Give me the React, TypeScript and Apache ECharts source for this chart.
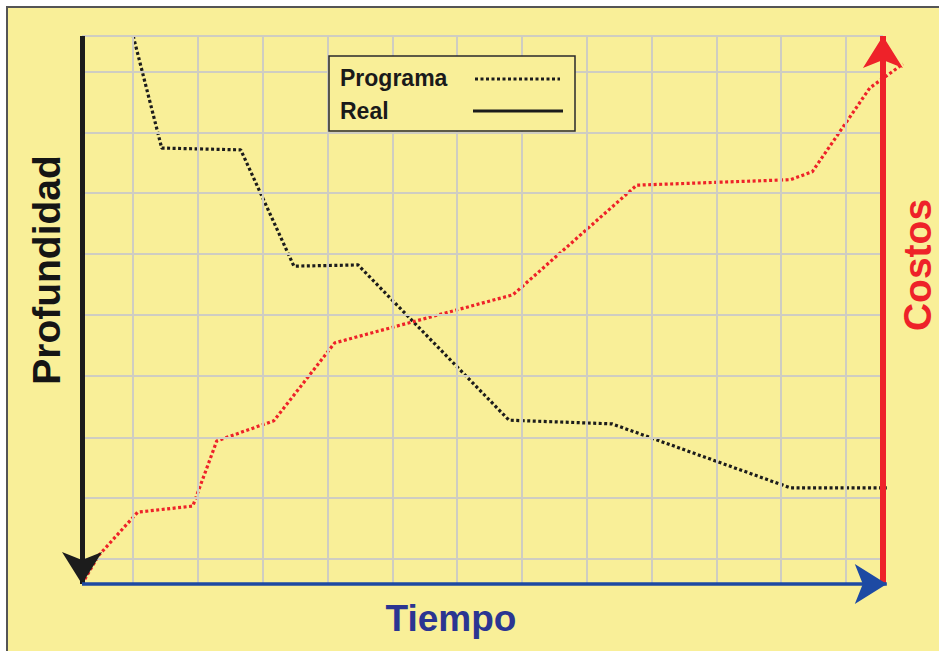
import React, { useEffect, useRef } from "react";
import * as echarts from "echarts";

// Time axis (arbitrary units, origin at 0)
const TIME_MAX = 12.67;
const TIME_ARROW_END = 12.42;
const COST_AXIS_T = 12.36;
const colLines = [0.79, 1.79, 2.79, 3.79, 4.79, 5.79, 6.79, 7.79, 8.79, 9.79, 10.79, 11.79];
// Depth axis (top = 0, increasing downward)
const DEPTH_MAX = 9;
const rowLines = [0, 0.59, 1.59, 2.58, 3.58, 4.58, 5.58, 6.59, 7.59, 8.59];

// Programa – profundidad (time, depth)
const depthTime = [0.79, 1.23, 2.45, 3.27, 4.26, 6.59, 8.18, 10.93, 12.42];
const depthValue = [0, 1.84, 1.87, 3.78, 3.76, 6.31, 6.37, 7.42, 7.42];

// Programa – costos (time, cost)
const costTime = [0, 0.25, 0.86, 1.71, 2.08, 2.96, 3.9, 6.65, 8.56, 10.93, 11.27, 12.16, 12.67];
const costValue = [0, 0.46, 1.18, 1.28, 2.35, 2.68, 3.96, 4.75, 6.55, 6.64, 6.77, 8.15, 8.54];

const legendItems = ["Programa", "Real"];
const axisTitles = { depth: "Profundidad", cost: "Costos", time: "Tiempo" };

const BG = "#F9EF98";
const GRID = "#CFCDC2";
const RED = "#EE2229";
const BLUE = "#1D4AA3";
const BLACK = "#1C1C1C";

export default function App() {
  const ref = useRef<HTMLDivElement>(null);
  useEffect(() => {
    if (!ref.current) return;
    const chart = echarts.init(ref.current, undefined, { renderer: "svg" });
    const gridMarks: any[] = [];
    colLines.forEach((t) => gridMarks.push([{ coord: [t, 0] }, { coord: [t, DEPTH_MAX] }]));
    rowLines.forEach((d) => gridMarks.push([{ coord: [0, d] }, { coord: [COST_AXIS_T, d] }]));

    const arrow = (from: number[], to: number[], color: string, width: number) => ({
      type: "line",
      data: [],
      yAxisIndex: 0,
      z: 5,
      silent: true,
      markLine: {
        silent: true,
        label: { show: false },
        symbol: ["none", "arrow"],
        symbolSize: [30, 32],
        lineStyle: { color, width, type: "solid" },
        data: [[{ coord: from }, { coord: to }]],
      },
    });

    chart.setOption({
      animation: false,
      backgroundColor: "transparent",
      grid: { left: 82, top: 36, width: 821, height: 548 },
      xAxis: { type: "value", min: 0, max: TIME_MAX, show: false },
      yAxis: [
        { type: "value", min: 0, max: DEPTH_MAX, inverse: true, show: false },
        { type: "value", min: 0, max: 9, show: false },
      ],
      series: [
        {
          type: "line",
          name: "grid",
          data: [],
          z: 1,
          silent: true,
          markLine: {
            silent: true,
            symbol: ["none", "none"],
            label: { show: false },
            lineStyle: { color: GRID, width: 2, type: "solid" },
            data: gridMarks,
          },
        },
        {
          type: "line",
          name: "Programa profundidad",
          yAxisIndex: 0,
          z: 3,
          clip: false,
          showSymbol: false,
          data: depthTime.map((t, i) => [t, depthValue[i]]),
          lineStyle: { color: BLACK, width: 3.2, type: [3, 2.5] },
        },
        {
          type: "line",
          name: "Programa costos",
          yAxisIndex: 1,
          z: 3,
          clip: false,
          showSymbol: false,
          data: costTime.map((t, i) => [t, costValue[i]]),
          lineStyle: { color: RED, width: 3.2, type: [3, 2.5] },
        },
        arrow([0, 0], [0, DEPTH_MAX], BLACK, 5),
        arrow([COST_AXIS_T, DEPTH_MAX], [COST_AXIS_T, 0], RED, 6),
        arrow([0, DEPTH_MAX], [TIME_ARROW_END, DEPTH_MAX], BLUE, 3.5),
      ],
      graphic: [
        {
          type: "rect",
          z: 10,
          shape: { x: 329, y: 56, width: 246, height: 75 },
          style: { fill: BG, stroke: "#2a2a2a", lineWidth: 1.5 },
        },
        {
          type: "text",
          z: 11,
          x: 340,
          y: 78,
          style: { text: legendItems[0], font: "bold 23px 'Liberation Sans', Arial, sans-serif", fill: "#1a1a1a", verticalAlign: "middle" },
        },
        {
          type: "text",
          z: 11,
          x: 340,
          y: 111,
          style: { text: legendItems[1], font: "bold 23px 'Liberation Sans', Arial, sans-serif", fill: "#1a1a1a", verticalAlign: "middle" },
        },
        {
          type: "line",
          z: 11,
          shape: { x1: 475, y1: 79, x2: 560, y2: 79 },
          style: { stroke: BLACK, lineWidth: 3, lineDash: [3, 2.5] },
        },
        {
          type: "line",
          z: 11,
          shape: { x1: 473, y1: 111, x2: 563, y2: 111 },
          style: { stroke: BLACK, lineWidth: 3 },
        },
        {
          type: "text",
          z: 11,
          x: 46,
          y: 270,
          rotation: Math.PI / 2,
          style: { text: axisTitles.depth, font: "bold 39px 'Liberation Sans', Arial, sans-serif", fill: "#151515", align: "center", verticalAlign: "middle" },
        },
        {
          type: "text",
          z: 11,
          x: 917,
          y: 265,
          rotation: Math.PI / 2,
          style: { text: axisTitles.cost, font: "bold 39px 'Liberation Sans', Arial, sans-serif", fill: RED, align: "center", verticalAlign: "middle" },
        },
        {
          type: "text",
          z: 11,
          x: 451,
          y: 618,
          style: { text: axisTitles.time, font: "bold 37px 'Liberation Sans', Arial, sans-serif", fill: "#2B3592", align: "center", verticalAlign: "middle" },
        },
      ],
    });
    return () => chart.dispose();
  }, []);

  return (
    <div style={{ position: "fixed", left: 0, top: 0, width: 939, height: 651, background: "#ffffff" }}>
      <div
        style={{
          position: "absolute",
          left: 6,
          top: 6,
          width: 933,
          height: 645,
          background: BG,
          borderTop: "2px solid #555",
          borderLeft: "2px solid #555",
          boxSizing: "border-box",
        }}
      />
      <div ref={ref} style={{ position: "absolute", left: 0, top: 0, width: 939, height: 651 }} />
    </div>
  );
}
